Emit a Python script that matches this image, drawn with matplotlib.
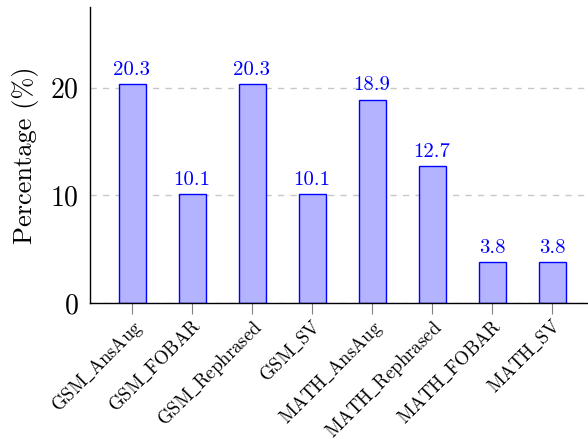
import numpy as np
import matplotlib
matplotlib.use("Agg")
import matplotlib.pyplot as plt

plt.rcParams['font.family'] = ['cmr10', 'DejaVu Serif']
plt.rcParams['mathtext.fontset'] = 'cm'
plt.rcParams['axes.formatter.use_mathtext'] = True

# augmentation subsets and their share of the data
subsets = ["GSM_AnsAug", "GSM_FOBAR", "GSM_Rephrased", "GSM_SV",
           "MATH_AnsAug", "MATH_Rephrased", "MATH_FOBAR", "MATH_SV"]
percent = [20.3, 10.1, 20.3, 10.1, 18.9, 12.7, 3.8, 3.8]

fig = plt.figure(figsize=(5.88, 4.44), dpi=100)
ax = fig.add_axes([90 / 588, 1 - 303 / 444, 1 - 90 / 588, 296 / 444])

x = np.arange(len(subsets))
ax.bar(x, percent, width=0.45, color="#b3b3ff", edgecolor="#0000ff",
       linewidth=1.0, zorder=3)

for xi, v in zip(x, percent):
    ax.annotate(f"{v:.1f}", (xi, v), xytext=(0, 4), textcoords="offset points",
                ha="center", va="bottom", color="#0000ff", fontsize=15)

ax.set_xlim(-0.7, 7.6)
ax.set_ylim(0, 27.5)
ax.set_yticks([0, 10, 20])
ax.yaxis.grid(True, color="#c8c8c8", linestyle=(0, (4.5, 4.5)), linewidth=1.0, zorder=0)

ax.set_xticks(x)
ax.set_xticklabels([s.replace("_", r"$\_$") for s in subsets], rotation=45,
                   ha="right", va="top", rotation_mode="anchor", fontsize=13.5)
ax.tick_params(axis="x", length=8, width=0.8, color="#808080", pad=2)
ax.tick_params(axis="y", length=0, pad=8, labelsize=20)

ax.set_ylabel("Percentage (%)", fontsize=19, labelpad=8)

ax.spines["top"].set_visible(False)
ax.spines["right"].set_visible(False)
for s in ("left", "bottom"):
    ax.spines[s].set_linewidth(1.0)
    ax.spines[s].set_zorder(4)

fig.savefig("out.png", dpi=100)
